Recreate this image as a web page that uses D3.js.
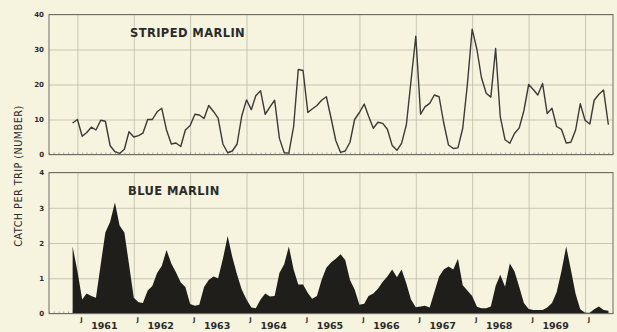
<!DOCTYPE html>
<html>
<head>
<meta charset="utf-8">
<script src="https://cdn.jsdelivr.net/npm/d3@7/dist/d3.min.js"></script>
<style>
  html, body { margin: 0; padding: 0; background: #f6f3df; }
  svg { display: block; }
  text { font-family: "DejaVu Sans", sans-serif; fill: #2b2b2b; }
</style>
</head>
<body>
<svg id="chart" width="617" height="332"></svg>
<script>
// ---- DATA (monthly, first value = December 1960) ----
const startYear = 1960, startMonth = 11; // December 1960
const striped = [9, 10, 5.2, 6.2, 7.8, 7, 9.8, 9.5, 2.5, 0.8, 0.3, 1.5, 6.5, 5.0, 5.4, 6.1,
  10, 10, 12.2, 13.2, 7, 3, 3.3, 2.3, 7, 8.3, 11.5, 11.3, 10.3, 14, 12.3, 10.4, 3, 0.5, 1.0, 3,
  11, 15.6, 12.8, 16.8, 18.2, 11.5, 13.6, 15.5, 4.6, 0.5, 0.4, 8, 24.3, 24, 12, 13, 14, 15.5,
  16.5, 10.5, 4, 0.6, 1, 3.5, 10, 12, 14.4, 11, 7.5, 9.2, 8.9, 7.2, 2.6, 1.2, 3.2, 8.5, 21,
  33.8, 11.5, 13.6, 14.6, 17, 16.5, 9, 2.7, 1.7, 1.9, 7.5, 20, 35.8, 30, 22, 17.5, 16.4, 30.3,
  10.8, 4.2, 3.2, 6, 7.6, 12.5, 20, 18.5, 17, 20.3, 11.7, 13.2, 8, 7.2, 3.3, 3.5, 7, 14.5,
  9.8, 8.7, 15.5, 17.2, 18.4, 8.5];
const blue = [1.9, 1.2, 0.4, 0.57, 0.5, 0.45, 1.4, 2.3, 2.6, 3.15, 2.5, 2.3, 1.4, 0.45, 0.32,
  0.3, 0.65, 0.78, 1.15, 1.35, 1.8, 1.42, 1.17, 0.88, 0.75, 0.27, 0.22, 0.25, 0.75, 0.95,
  1.05, 1.0, 1.55, 2.2, 1.6, 1.1, 0.68, 0.4, 0.17, 0.15, 0.4, 0.57, 0.48, 0.5, 1.15, 1.4, 1.9,
  1.25, 0.82, 0.82, 0.58, 0.42, 0.5, 0.95, 1.3, 1.45, 1.55, 1.68, 1.52, 0.95, 0.68, 0.25,
  0.28, 0.5, 0.57, 0.7, 0.9, 1.05, 1.25, 1.03, 1.25, 0.85, 0.4, 0.18, 0.2, 0.22, 0.17, 0.6,
  1.05, 1.25, 1.33, 1.25, 1.55, 0.8, 0.65, 0.5, 0.19, 0.15, 0.15, 0.2, 0.78, 1.1, 0.76, 1.42,
  1.2, 0.75, 0.3, 0.13, 0.1, 0.1, 0.1, 0.17, 0.3, 0.6, 1.2, 1.9, 1.25, 0.55, 0.12, 0.02, 0.02,
  0.12, 0.2, 0.1, 0.08];
const yearLabels = ["1961", "1962", "1963", "1964", "1965", "1966", "1967", "1968", "1969"];
const januaryYears = [1961, 1962, 1963, 1964, 1965, 1966, 1967, 1968, 1969, 1970];
const stripedTicks = [0, 10, 20, 30, 40];
const blueTicks = [0, 1, 2, 3, 4];
const titleTop = "STRIPED MARLIN";
const titleBottom = "BLUE MARLIN";
const yTitle = "CATCH PER TRIP (NUMBER)";

// ---- LAYOUT ----
const svg = d3.select("#chart");
const left = 49, right = 613;
const top1 = 14.5, bot1 = 154.5;
const top2 = 172.5, bot2 = 313.5;
const frameColor = "#6e6e66", gridColor = "#b4b2a4";

const date = i => new Date(startYear, startMonth + i, 1);
const x = d3.scaleTime()
  .domain([new Date(1960, 6, 1), new Date(1970, 6, 1)])
  .range([left, right]);
const y1 = d3.scaleLinear().domain([0, 40]).range([bot1, top1]);
const y2 = d3.scaleLinear().domain([0, 4]).range([bot2, top2]);

function panel(y, ticks, top, bot) {
  const g = svg.append("g");
  const ya = d3.axisLeft(y).tickValues(ticks).tickSize(-(right - left)).tickPadding(5)
    .tickFormat(d3.format("d"));
  const ga = g.append("g").attr("transform", `translate(${left},0)`).call(ya);
  ga.select(".domain").remove();
  ga.selectAll("line").attr("stroke", gridColor).attr("stroke-width", 0.7);
  ga.selectAll("text").attr("font-size", 7).attr("font-weight", "bold").attr("fill", "#333");
  const xa = d3.axisBottom(x).tickValues(januaryYears.map(yr => new Date(yr, 0, 1)))
    .tickSize(-(bot - top)).tickFormat("");
  const gx = g.append("g").attr("transform", `translate(0,${bot})`).call(xa);
  gx.select(".domain").remove();
  gx.selectAll("line").attr("stroke", gridColor).attr("stroke-width", 0.7);
  const mt = d3.axisBottom(x).ticks(d3.timeMonth.every(1)).tickSize(-2).tickFormat("");
  const gm = g.append("g").attr("transform", `translate(0,${bot})`).call(mt);
  gm.select(".domain").remove();
  gm.selectAll("line").attr("stroke", "#777").attr("stroke-width", 0.6);
  return g;
}

panel(y1, stripedTicks, top1, bot1);
panel(y2, blueTicks, top2, bot2);

const area = d3.area()
  .x((d, i) => x(date(i)))
  .y0(y2(0))
  .y1(d => y2(d));
svg.append("path").datum(blue).attr("d", area).attr("fill", "#1f1e1a");

const line = d3.line()
  .x((d, i) => x(date(i)))
  .y(d => y1(d));
svg.append("path").datum(striped).attr("d", line)
  .attr("fill", "none").attr("stroke", "#3a3a36").attr("stroke-width", 1.4)
  .attr("stroke-linejoin", "round");

[[top1, bot1], [top2, bot2]].forEach(([t, b]) => {
  svg.append("rect").attr("x", left).attr("y", t).attr("width", right - left).attr("height", b - t)
    .attr("fill", "none").attr("stroke", frameColor).attr("stroke-width", 1);
});

svg.append("text").attr("x", 130).attr("y", 37).attr("font-size", 11.5).attr("font-weight", "bold")
  .attr("letter-spacing", 0.4).text(titleTop);
svg.append("text").attr("x", 128).attr("y", 195).attr("font-size", 11.5).attr("font-weight", "bold")
  .attr("letter-spacing", 0.4).text(titleBottom);

svg.append("text").attr("transform", "translate(21.5,176) rotate(-90)")
  .attr("text-anchor", "middle").attr("font-size", 9.6).attr("letter-spacing", 0.5)
  .text(yTitle);

const gl = svg.append("g");
gl.selectAll("text.j").data(januaryYears).join("text").attr("class", "j")
  .attr("x", yr => x(new Date(yr, 0, 1)) + 4).attr("y", 322)
  .attr("text-anchor", "middle").attr("font-size", 6.5).attr("font-weight", "bold").text("J");
gl.selectAll("text.yr").data(yearLabels).join("text").attr("class", "yr")
  .attr("x", yr => x(new Date(+yr, 6, 1)) - 1).attr("y", 328.5)
  .attr("text-anchor", "middle").attr("font-size", 9.5).attr("font-weight", "bold").text(d => d);
</script>
</body>
</html>
